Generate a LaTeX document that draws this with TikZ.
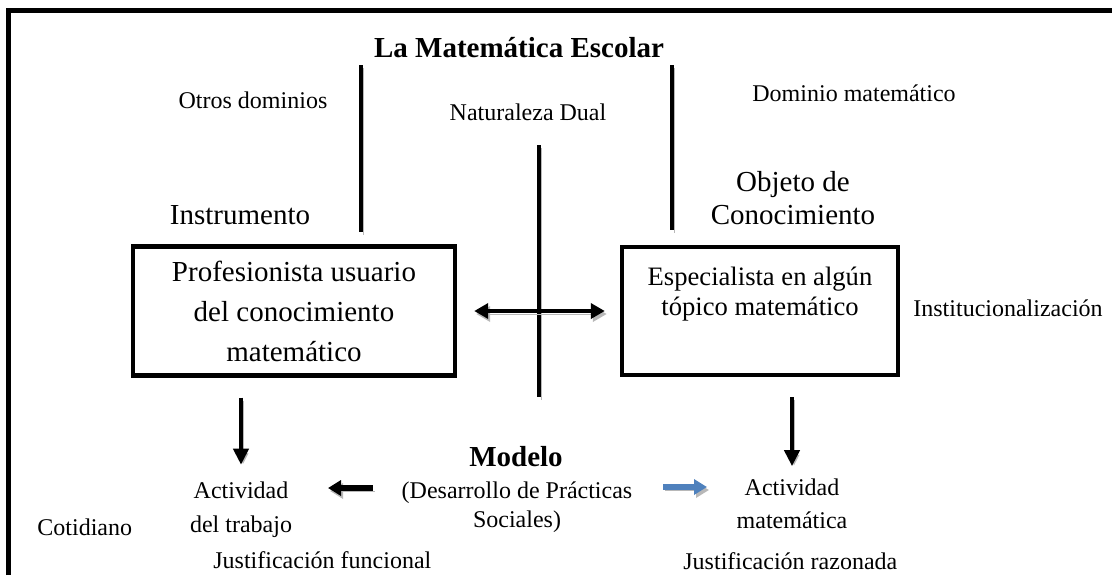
\documentclass[tikz,border=0pt]{standalone}
\usepackage{fontspec}
\setmainfont{Liberation Serif}
\usetikzlibrary{arrows.meta}
\definecolor{arrowblue}{RGB}{79,129,189}

\begin{document}
\begin{tikzpicture}[x=0.5pt,y=-0.5pt,
   small/.style={font=\fontsize{12}{14}\selectfont, inner sep=0pt},
   big/.style={font=\fontsize{14.5}{17}\selectfont, inner sep=0pt},
   gshadow/.style={preaction={draw=black!28, transform canvas={shift={(1pt,-1.5pt)}}}},
   bar/.style={line width=2pt, gshadow},
   fatbar/.style={line width=2.6pt, gshadow},
   frm/.style={draw, line width=2.2pt, inner sep=0pt, align=center},
   tip/.style={-{Triangle[width=7.5pt,length=8pt]}},
   fattip/.style={-{Triangle[width=7.5pt,length=6.5pt]}},
   duotip/.style={{Triangle[width=7.5pt,length=7pt]}-{Triangle[width=7.5pt,length=7pt]}}]
   \useasboundingbox (0,0) rectangle (1112,575);
   \draw[line width=2.5pt] (8,575) -- (8,10) -- (1112,10);
   \node[big, font=\fontsize{14.5}{17}\selectfont\bfseries] (title) at (519,48) {La Matemática Escolar};
   \node[small] (otros) at (253,100) {Otros dominios};
   \node[small] (dual) at (528,112) {Naturaleza Dual};
   \node[small, anchor=west] (dominio) at (752,93) {Dominio matemático};
   \node[big, align=center, font=\fontsize{14.5}{16.5}\selectfont] (objeto) at (793,198.5) {Objeto de\\Conocimiento};
   \node[big] (instr) at (240,215) {Instrumento};
   \node[frm, minimum width=161pt, minimum height=64.5pt, font=\fontsize{14.5}{20}\selectfont] (profe) at (294,311)
      {Profesionista usuario\\del conocimiento\\matemático};
   \node[frm, minimum width=138pt, minimum height=64pt, font=\fontsize{13.3}{15}\selectfont] (espec) at (760,311)
      {Especialista en algún\\tópico matemático\\\strut};
   \node[small, anchor=west] (instit) at (913,308) {Institucionalización};
   \node[big, font=\fontsize{14.5}{17}\selectfont\bfseries] (modelo) at (516,457) {Modelo};
   \node[small, align=center, font=\fontsize{12}{14.5}\selectfont] (practicas) at (517,507.5) {(Desarrollo de Prácticas\\Sociales)};
   \node[small, align=center, font=\fontsize{12}{17}\selectfont] (trabajo) at (241,510) {Actividad\\del trabajo};
   \node[small, align=center, font=\fontsize{12}{16.5}\selectfont] (matact) at (792,503.5) {Actividad\\matemática};
   \node[small, anchor=west] (coti) at (37,527) {Cotidiano};
   \node[small, anchor=west] (funcional) at (213,560) {Justificación funcional};
   \node[small, anchor=west] (razonada) at (683,561) {Justificación razonada};
   \coordinate (inst top) at (361,65);
   \coordinate (inst bot) at (361,232);
   \coordinate (obj top) at (672,65);
   \coordinate (obj bot) at (672,230);
   \coordinate (dual top) at (539,145);
   \coordinate (dual bot) at (539,397);
   \coordinate (trab from) at (373,488);
   \coordinate (trab to) at (328,488);
   \coordinate (mat from) at (663,487);
   \coordinate (mat to) at (707,487);
   \draw[bar] (inst top) -- (inst bot);
   \draw[bar] (obj top) -- (obj bot);
   \draw[bar] (dual top) -- (dual bot);
   \draw[bar, duotip, shorten <=8.5pt, shorten >=7.5pt] (profe) -- (espec);
   \draw[bar, tip, shorten <=10pt, shorten >=8.5pt] (profe.south -| trabajo.north) -- (trabajo.north);
   \draw[bar, tip, shorten <=10pt, shorten >=6pt] (espec.south -| matact.north) -- (matact.north);
   \draw[fatbar, fattip] (trab from) -- (trab to);
   \draw[fatbar, fattip, arrowblue] (mat from) -- (mat to);
\end{tikzpicture}
\end{document}
